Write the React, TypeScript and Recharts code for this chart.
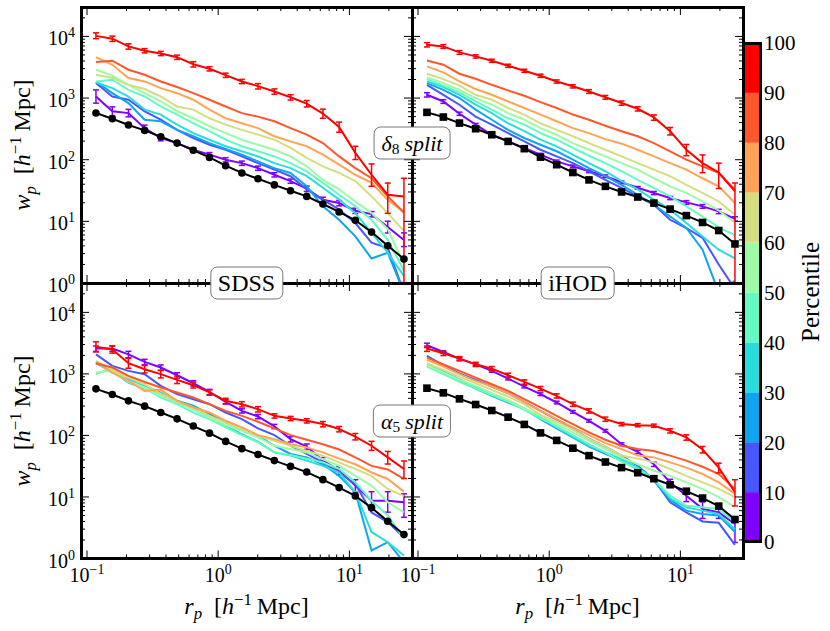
import { Bar, BarChart, ErrorBar, Line, LineChart, XAxis, YAxis } from 'recharts';

const FONT = '"Liberation Serif", "Times New Roman", serif';

// projected separation bins, h^-1 Mpc
const rp = [0.117, 0.156, 0.207, 0.275, 0.365, 0.486, 0.646, 0.858, 1.14, 1.515, 2.01, 2.68, 3.56, 4.73, 6.28, 8.35, 11.1, 14.75, 19.6, 26.05];

const xTicks = [0.1, 0.2, 0.3, 0.4, 0.5, 0.6, 0.7, 0.8, 0.9, 1, 2, 3, 4, 5, 6, 7, 8, 9, 10, 20];
const yTicks = [1, 2, 3, 4, 5, 6, 7, 8, 9, 10, 20, 30, 40, 50, 60, 70, 80, 90, 100, 200, 300, 400, 500, 600, 700, 800, 900, 1000, 2000, 3000, 4000, 5000, 6000, 7000, 8000, 9000, 10000, 20000];

const percentileTicks = [0, 10, 20, 30, 40, 50, 60, 70, 80, 90, 100];
const binColors = ['#8000ff', '#4757fb', '#0ea4f0', '#2adddd', '#63fbc3', '#9cfba4', '#d4dd80', '#ffa457', '#ff572c', '#ff0000'];

// full samples (black)
const sdssAll = [571, 462, 365, 299, 236, 186, 142, 109, 80, 61, 49, 39, 31.4, 25.4, 19.1, 14.2, 10.4, 6.7, 4.03, 2.45];
const ihodAll = [586, 492, 393, 318, 254, 198, 151, 110, 83, 62, 47, 37, 30, 24.8, 19.8, 15.8, 12.4, 9.6, 7.1, 4.3];

// SDSS, delta_8 split: one row per percentile bin (0-10 ... 90-100)
const sdssD8 = [
  [1060, 610, 570, 325, 225, 186, 145, 121, 100, 88, 73, 57, 45, 34, 22.4, 19.8, 14.9, 13.1, 8.1, 5.0],
  [1750, 1060, 940, 610, 445, 305, 225, 175, 145, 113, 88, 69, 54, 33, 22.5, 15.5, 9.4, 4.5, 3.7, 0.7],
  [1860, 1200, 830, 445, 420, 305, 240, 186, 149, 121, 94, 73, 61, 37, 17.5, 10.6, 5.7, 2.5, 3.1, 0.7],
  [1800, 1450, 1060, 650, 540, 370, 270, 211, 165, 137, 113, 88, 73, 54, 35, 22.5, 13.6, 6.5, 3.1, 1.3],
  [1860, 1980, 1360, 1060, 730, 540, 390, 290, 211, 165, 137, 113, 88, 65, 42, 27, 17.5, 10.6, 5.0, 1.6],
  [2880, 2300, 1640, 1200, 880, 610, 470, 350, 270, 211, 175, 145, 113, 78, 47, 33, 21, 13.6, 7.5, 2.0],
  [2390, 2110, 1640, 1400, 1060, 730, 650, 470, 370, 305, 255, 211, 155, 107, 78, 61, 45, 25.4, 13.6, 7.0],
  [4620, 3470, 2110, 1860, 1450, 1200, 940, 650, 470, 390, 325, 240, 198, 165, 121, 83, 57, 42, 22.5, 14],
  [3840, 4030, 2880, 2390, 1860, 1510, 1200, 940, 730, 570, 500, 420, 325, 255, 186, 113, 73, 50, 25.4, 14],
  [10200, 9200, 6900, 5870, 5300, 4600, 3540, 2990, 2350, 1860, 1560, 1280, 1030, 815, 560, 340, 129, 57, 27, 25.4],
];
const sdssD8RedHi = [0.12, 0.1, 0.1, 0.08, 0.08, 0.08, 0.1, 0.08, 0.08, 0.08, 0.1, 0.1, 0.1, 0.12, 0.18, 0.2, 0.28, 0.5, 0.55, 0.97];
const sdssD8RedLo = [0.1, 0.1, 0.1, 0.08, 0.08, 0.08, 0.1, 0.08, 0.08, 0.08, 0.1, 0.1, 0.1, 0.12, 0.16, 0.18, 0.22, 0.35, 0.5, 0.96];
const sdssD8PurpleHi = [0.28, 0.18, 0.15, 0.12, 0.12, 0.08, 0.08, 0.08, 0.08, 0.08, 0.08, 0.08, 0.08, 0.1, 0.1, 0.1, 0.1, 0.1, 0.24, 0.3];
const sdssD8PurpleLo = [0.22, 0.15, 0.13, 0.1, 0.1, 0.08, 0.08, 0.08, 0.08, 0.08, 0.08, 0.08, 0.08, 0.1, 0.1, 0.1, 0.1, 0.1, 0.2, 0.22];

// iHOD, delta_8 split
const ihodD8 = [
  [1130, 880, 557, 370, 254, 198, 155, 121, 94, 78, 65, 54, 43, 35, 28.8, 23.9, 20.3, 17.5, 14.5, 11],
  [1640, 1130, 780, 500, 370, 270, 198, 145, 113, 88, 65, 47, 35, 25.4, 18.6, 10.6, 7.8, 5.4, 2.0, 0.8],
  [1750, 1360, 1000, 650, 445, 305, 225, 175, 137, 100, 73, 54, 39, 27, 18.6, 12, 7.8, 3.47, 0.7, 1.1],
  [1860, 1510, 1130, 780, 570, 390, 290, 211, 165, 121, 88, 65, 45, 33, 22.5, 15.5, 9.4, 5.7, 3.47, 2.5],
  [2030, 1590, 1240, 880, 650, 470, 370, 270, 211, 155, 116, 88, 65, 47, 35, 25.4, 17.5, 12, 8, 6],
  [2190, 1750, 1360, 1000, 780, 570, 445, 325, 254, 186, 145, 113, 88, 69, 50, 37, 29, 21, 15, 9.5],
  [2480, 2030, 1590, 1130, 940, 690, 540, 390, 305, 240, 186, 145, 113, 88, 69, 54, 39, 29, 21, 12.8],
  [3260, 2610, 1860, 1400, 1130, 880, 690, 540, 420, 325, 270, 216, 182, 145, 113, 88, 69, 50, 37, 19.8],
  [4080, 3470, 2480, 2060, 1640, 1330, 1090, 860, 690, 540, 445, 355, 290, 240, 186, 137, 100, 78, 61, 32.6],
  [7330, 6890, 5510, 4740, 4030, 3340, 2770, 2300, 1860, 1550, 1280, 1030, 830, 670, 485, 290, 145, 88, 62, 30.6],
];
const ihodD8RedHi = [0.08, 0.07, 0.07, 0.06, 0.06, 0.06, 0.06, 0.06, 0.06, 0.06, 0.07, 0.07, 0.08, 0.08, 0.1, 0.15, 0.22, 0.36, 0.42, 0.37];
const ihodD8RedLo = [0.08, 0.07, 0.07, 0.06, 0.06, 0.06, 0.06, 0.06, 0.06, 0.06, 0.07, 0.07, 0.08, 0.08, 0.1, 0.13, 0.2, 0.3, 0.45, 0.967];
const ihodD8PurpleHi = [0.08, 0.07, 0.06, 0.05, 0.05, 0.05, 0.05, 0.05, 0.05, 0.05, 0.05, 0.05, 0.05, 0.05, 0.06, 0.06, 0.07, 0.07, 0.08, 0.08];
const ihodD8PurpleLo = [0.08, 0.07, 0.06, 0.05, 0.05, 0.05, 0.05, 0.05, 0.05, 0.05, 0.05, 0.05, 0.05, 0.05, 0.06, 0.06, 0.07, 0.07, 0.08, 0.08];

// SDSS, alpha_5 split
const sdssA5 = [
  [2580, 2580, 2080, 1570, 1270, 950, 705, 510, 352, 251, 203, 140, 87, 66, 39, 27, 15.3, 8.7, 8.7, 8.2],
  [2080, 1350, 1120, 990, 640, 468, 388, 322, 236, 184, 130, 101, 68, 50, 36.5, 25, 16.3, 5.6, 3.9, 2.2],
  [1490, 1120, 723, 585, 468, 365, 303, 222, 163, 127, 99, 68, 50, 44, 34, 22, 11.9, 1.35, 1.84, 0.87],
  [1530, 1050, 820, 640, 500, 352, 267, 196, 144, 105, 79, 53, 47, 39, 32, 25, 11.9, 2.7, 1.84, 1.12],
  [990, 1270, 740, 585, 413, 322, 236, 184, 135, 101, 77, 53, 48, 42, 36.5, 28.5, 17.3, 8.7, 5, 2.1],
  [1050, 1120, 740, 600, 440, 343, 267, 196, 147, 119, 93, 68, 60, 53, 41, 32, 22, 15.3, 8.2, 5.6],
  [1625, 1160, 870, 680, 468, 365, 285, 208, 163, 127, 99, 82, 68, 56, 47, 36.5, 28.5, 22, 13.5, 10.3],
  [1570, 1050, 770, 530, 550, 365, 285, 236, 173, 135, 101, 87, 72, 64, 53, 42, 34, 25, 19.6, 12.2],
  [1490, 1270, 930, 740, 600, 500, 413, 322, 251, 208, 167, 130, 101, 85, 72, 59, 44, 32, 28, 19.6],
  [2770, 2500, 1490, 1190, 990, 800, 655, 500, 365, 322, 267, 208, 189, 173, 153, 127, 96, 68, 44, 28.5],
];
const sdssA5RedHi = [0.2, 0.15, 0.2, 0.15, 0.15, 0.15, 0.12, 0.1, 0.1, 0.1, 0.1, 0.08, 0.08, 0.08, 0.1, 0.1, 0.12, 0.18, 0.25, 0.35];
const sdssA5RedLo = [0.18, 0.13, 0.17, 0.13, 0.13, 0.13, 0.1, 0.1, 0.1, 0.1, 0.1, 0.08, 0.08, 0.08, 0.1, 0.1, 0.12, 0.16, 0.22, 0.3];
const sdssA5PurpleHi = [0.1, 0.1, 0.12, 0.1, 0.1, 0.1, 0.1, 0.1, 0.08, 0.08, 0.08, 0.08, 0.1, 0.1, 0.12, 0.15, 0.25, 0.4, 0.4, 0.37];
const sdssA5PurpleLo = [0.1, 0.1, 0.12, 0.1, 0.1, 0.1, 0.1, 0.1, 0.08, 0.08, 0.08, 0.08, 0.1, 0.1, 0.12, 0.15, 0.22, 0.3, 0.35, 0.43];

// iHOD, alpha_5 split
const ihodA5 = [
  [2920, 2270, 1770, 1430, 1120, 840, 623, 468, 343, 242, 173, 119, 72, 54, 34, 17.3, 10.5, 6.4, 5.6, 3.65],
  [1960, 1380, 1020, 800, 623, 485, 352, 251, 180, 127, 89, 66, 47, 32, 19.1, 8.2, 5.6, 4.0, 3.8, 1.67],
  [1350, 1020, 770, 578, 440, 343, 267, 184, 130, 93, 66, 50, 39, 27.7, 18.4, 9.0, 6.0, 5.3, 5.0, 2.7],
  [1430, 1090, 820, 600, 468, 365, 274, 196, 135, 96, 68, 53, 41, 30, 19.6, 9.5, 6.8, 6.0, 5.3, 3.0],
  [1320, 990, 740, 578, 451, 352, 261, 189, 140, 101, 72, 53, 37.4, 28.5, 19.1, 10.5, 7.2, 6.8, 6.4, 3.9],
  [1380, 1050, 800, 640, 485, 378, 274, 208, 153, 112, 82, 60, 44, 34, 26.7, 22, 17.3, 13.5, 9.9, 6.8],
  [1490, 1160, 905, 705, 550, 429, 322, 216, 167, 124, 89, 66, 47, 42, 36.5, 28.5, 22, 17.3, 13.5, 9.9],
  [1690, 1320, 990, 770, 623, 485, 352, 251, 184, 135, 101, 75, 60, 47, 44, 36.5, 30, 23.6, 17.3, 11.2],
  [1840, 1430, 1120, 870, 680, 530, 388, 285, 208, 153, 112, 85, 68, 60, 56, 47, 39, 31, 23.6, 13.5],
  [2580, 2160, 1770, 1430, 1220, 950, 740, 578, 440, 322, 251, 184, 153, 147, 144, 119, 93, 59, 30, 11.9],
];
const ihodA5RedHi = [0.1, 0.08, 0.08, 0.08, 0.08, 0.08, 0.08, 0.08, 0.08, 0.08, 0.08, 0.08, 0.06, 0.06, 0.06, 0.08, 0.1, 0.12, 0.18, 0.6];
const ihodA5RedLo = [0.1, 0.08, 0.08, 0.08, 0.08, 0.08, 0.08, 0.08, 0.08, 0.08, 0.08, 0.08, 0.06, 0.06, 0.06, 0.08, 0.1, 0.12, 0.18, 0.4];
const ihodA5PurpleHi = [0.08, 0.05, 0.05, 0.05, 0.05, 0.05, 0.05, 0.05, 0.05, 0.05, 0.05, 0.05, 0.05, 0.06, 0.08, 0.12, 0.2, 0.3, 0.2, 0.3];
const ihodA5PurpleLo = [0.08, 0.05, 0.05, 0.05, 0.05, 0.05, 0.05, 0.05, 0.05, 0.05, 0.05, 0.05, 0.05, 0.06, 0.08, 0.12, 0.2, 0.3, 0.2, 0.5];

// layout of the 2x2 grid
const X0 = 81;
const X1 = 412;
const X2 = 743;
const Y0 = 7;
const Y1 = 283;
const Y2 = 558.5;
const PAD_L = 70;
const PAD_R = 15;
const PAD_T = 15;
const PAD_B = 45;
const SPINE = 3;

const isMajor = (v: number) => Math.abs(Math.log10(v) - Math.round(Math.log10(v))) < 1e-6;
const expText = (v: number) => {
  const e = Math.round(Math.log10(v));
  return e < 0 ? `\u2212${-e}` : `${e}`;
};

function renderXTick(props: any, withLabel: boolean, span: number) {
  const { x, y, payload, index } = props;
  const v = payload.value;
  const major = isMajor(v);
  const len = major ? 8 : 4;
  return (
    <g key={`xt-${index}`}>
      <line x1={x} x2={x} y1={y} y2={y - len} stroke="#000" strokeWidth={1} />
      <line x1={x} x2={x} y1={y - span} y2={y - span + len} stroke="#000" strokeWidth={1} />
      {withLabel && major && (
        <text x={x} y={y + 23} textAnchor="middle" fontSize={20} fontFamily={FONT} fill="#000">
          <tspan>10</tspan>
          <tspan dy={-8} fontSize={14}>{expText(v)}</tspan>
        </text>
      )}
    </g>
  );
}

function renderYTick(props: any, withLabel: boolean, span: number) {
  const { x, y, payload, index } = props;
  const v = payload.value;
  const major = isMajor(v);
  const len = major ? 8 : 4;
  return (
    <g key={`yt-${index}`}>
      <line x1={x} x2={x + len} y1={y} y2={y} stroke="#000" strokeWidth={1} />
      <line x1={x + span} x2={x + span - len} y1={y} y2={y} stroke="#000" strokeWidth={1} />
      {withLabel && major && (
        <text x={x - 6} y={y + 9} textAnchor="end" fontSize={20} fontFamily={FONT} fill="#000">
          <tspan>10</tspan>
          <tspan dy={-8} fontSize={14}>{expText(v)}</tspan>
        </text>
      )}
    </g>
  );
}

interface PanelProps {
  left: number;
  top: number;
  right: number;
  bottom: number;
  bins: number[][];
  all: number[];
  redHi: number[];
  redLo: number[];
  purpleHi: number[];
  purpleLo: number[];
  square: boolean;
  xLabels: boolean;
  yLabels: boolean;
}

function Panel({ left, top, right, bottom, bins, all, redHi, redLo, purpleHi, purpleLo, square, xLabels, yLabels }: PanelProps) {
  const w = right - left;
  const h = bottom - top;
  const data = rp.map((r, i) => {
    const row: Record<string, any> = { rp: r, all: all[i] };
    bins.forEach((series, b) => {
      row[`b${b}`] = series[i];
    });
    row.e0 = [bins[0][i] * purpleLo[i], bins[0][i] * purpleHi[i]];
    row.e9 = [bins[9][i] * redLo[i], bins[9][i] * redHi[i]];
    return row;
  });

  const marker = (p: any) =>
    square ? (
      <rect key={`m-${p.index}`} x={p.cx - 3.8} y={p.cy - 3.8} width={7.6} height={7.6} fill="#000" />
    ) : (
      <circle key={`m-${p.index}`} cx={p.cx} cy={p.cy} r={3.8} fill="#000" />
    );

  return (
    <>
      <div style={{ position: 'absolute', left: left - PAD_L, top: top - PAD_T }}>
        <LineChart
          width={w + PAD_L + PAD_R}
          height={h + PAD_T + PAD_B}
          data={data}
          margin={{ top: PAD_T, right: PAD_R, bottom: 0, left: 0 }}
        >
          <XAxis
            dataKey="rp"
            type="number"
            scale="log"
            domain={[0.09, 30]}
            allowDataOverflow
            ticks={xTicks}
            interval={0}
            axisLine={false}
            tickLine={false}
            tickSize={0}
            tickMargin={0}
            height={PAD_B}
            tick={(p: any) => renderXTick(p, xLabels, h)}
          />
          <YAxis
            type="number"
            scale="log"
            domain={[1, 30000]}
            allowDataOverflow
            ticks={yTicks}
            interval={0}
            axisLine={false}
            tickLine={false}
            tickSize={0}
            tickMargin={0}
            width={PAD_L}
            tick={(p: any) => renderYTick(p, yLabels, w)}
          />
          {bins.map((_, b) => (
            <Line
              key={b}
              type="linear"
              dataKey={`b${b}`}
              stroke={binColors[b]}
              strokeWidth={2}
              dot={false}
              isAnimationActive={false}
            >
              {b === 0 && <ErrorBar dataKey="e0" direction="y" width={3} stroke={binColors[0]} strokeWidth={1.5} />}
              {b === 9 && <ErrorBar dataKey="e9" direction="y" width={3} stroke={binColors[9]} strokeWidth={1.5} />}
            </Line>
          ))}
          <Line type="linear" dataKey="all" stroke="#000" strokeWidth={2} dot={marker} isAnimationActive={false} />
        </LineChart>
      </div>
      <div
        style={{
          position: 'absolute',
          left: left - SPINE / 2,
          top: top - SPINE / 2,
          width: w + SPINE,
          height: h + SPINE,
          border: `${SPINE}px solid #000`,
          boxSizing: 'border-box',
          pointerEvents: 'none',
        }}
      />
    </>
  );
}

function Colorbar() {
  const row: Record<string, any> = { name: 'pct' };
  binColors.forEach((_, i) => {
    row[`s${i}`] = percentileTicks[i + 1] - percentileTicks[i];
  });
  return (
    <>
      <div style={{ position: 'absolute', left: 744, top: 30 }}>
        <BarChart
          width={16 + 60}
          height={499 + 26}
          data={[row]}
          margin={{ top: 13, right: 0, bottom: 13, left: 0 }}
          barCategoryGap={0}
          barGap={0}
        >
          <XAxis dataKey="name" hide />
          <YAxis
            orientation="right"
            type="number"
            domain={[0, 100]}
            ticks={percentileTicks}
            interval={0}
            width={60}
            axisLine={false}
            tickLine={false}
            tickSize={0}
            tickMargin={4}
            tick={{ fontSize: 21, fill: '#000', fontFamily: FONT }}
          />
          {binColors.map((c, i) => (
            <Bar key={i} dataKey={`s${i}`} stackId="cb" fill={c} isAnimationActive={false} />
          ))}
        </BarChart>
      </div>
      <div
        style={{
          position: 'absolute',
          left: 742,
          top: 41.5,
          width: 20,
          height: 501.5,
          border: `${SPINE}px solid #000`,
          boxSizing: 'border-box',
        }}
      />
      <div
        style={{
          position: 'absolute',
          left: 810,
          top: 292,
          transform: 'translate(-50%, -50%) rotate(-90deg)',
          fontSize: 25,
          lineHeight: 1,
          whiteSpace: 'nowrap',
        }}
      >
        Percentile
      </div>
    </>
  );
}

function UnitLabel({ sym }: { sym: string }) {
  return (
    <span>
      <i>{sym}</i>
      <sub style={{ fontSize: '0.7em', verticalAlign: '-0.3em' }}>
        <i>p</i>
      </sub>
      {'\u2002'}[<i>h</i>
      <sup style={{ fontSize: '0.7em', verticalAlign: '0.55em' }}>{'\u22121'}</sup>
      {'\u2009'}Mpc]
    </span>
  );
}

function Tag({ x, y, size, children }: { x: number; y: number; size: number; children: any }) {
  return (
    <div
      style={{
        position: 'absolute',
        left: x,
        top: y,
        transform: 'translate(-50%, -50%)',
        background: '#fff',
        border: '1px solid #777',
        borderRadius: 7,
        padding: '0 7px',
        height: 31,
        lineHeight: '31px',
        fontSize: size,
        whiteSpace: 'nowrap',
      }}
    >
      {children}
    </div>
  );
}

export default function App() {
  return (
    <div
      style={{
        position: 'relative',
        width: 830,
        height: 631,
        background: '#fff',
        fontFamily: FONT,
        color: '#000',
        overflow: 'hidden',
      }}
    >
      <style>{'body{margin:0}'}</style>

      <Panel left={X0} top={Y0} right={X1} bottom={Y1} bins={sdssD8} all={sdssAll}
        redHi={sdssD8RedHi} redLo={sdssD8RedLo} purpleHi={sdssD8PurpleHi} purpleLo={sdssD8PurpleLo}
        square={false} xLabels={false} yLabels />
      <Panel left={X1} top={Y0} right={X2} bottom={Y1} bins={ihodD8} all={ihodAll}
        redHi={ihodD8RedHi} redLo={ihodD8RedLo} purpleHi={ihodD8PurpleHi} purpleLo={ihodD8PurpleLo}
        square xLabels={false} yLabels={false} />
      <Panel left={X0} top={Y1} right={X1} bottom={Y2} bins={sdssA5} all={sdssAll}
        redHi={sdssA5RedHi} redLo={sdssA5RedLo} purpleHi={sdssA5PurpleHi} purpleLo={sdssA5PurpleLo}
        square={false} xLabels yLabels />
      <Panel left={X1} top={Y1} right={X2} bottom={Y2} bins={ihodA5} all={ihodAll}
        redHi={ihodA5RedHi} redLo={ihodA5RedLo} purpleHi={ihodA5PurpleHi} purpleLo={ihodA5PurpleLo}
        square xLabels yLabels={false} />

      <Colorbar />

      {[145, 420.5].map((cy) => (
        <div
          key={cy}
          style={{
            position: 'absolute',
            left: 24,
            top: cy,
            transform: 'translate(-50%, -50%) rotate(-90deg)',
            fontSize: 24,
            lineHeight: 1,
            whiteSpace: 'nowrap',
          }}
        >
          <UnitLabel sym="w" />
        </div>
      ))}
      {[246.5, 577.5].map((cx) => (
        <div
          key={cx}
          style={{
            position: 'absolute',
            left: cx,
            top: 592,
            transform: 'translate(-50%, 0)',
            fontSize: 24,
            lineHeight: 1,
            whiteSpace: 'nowrap',
          }}
        >
          <UnitLabel sym="r" />
        </div>
      ))}

      <Tag x={412} y={143} size={22}>
        <i>δ</i>
        <sub style={{ fontSize: '0.7em', verticalAlign: '-0.25em' }}>8</sub>
        <span style={{ marginLeft: 5 }}>
          <i>split</i>
        </span>
      </Tag>
      <Tag x={246.5} y={283} size={24}>SDSS</Tag>
      <Tag x={577.5} y={283} size={24}>iHOD</Tag>
      <Tag x={412} y={421} size={22}>
        <i>α</i>
        <sub style={{ fontSize: '0.7em', verticalAlign: '-0.25em' }}>5</sub>
        <span style={{ marginLeft: 5 }}>
          <i>split</i>
        </span>
      </Tag>
    </div>
  );
}
